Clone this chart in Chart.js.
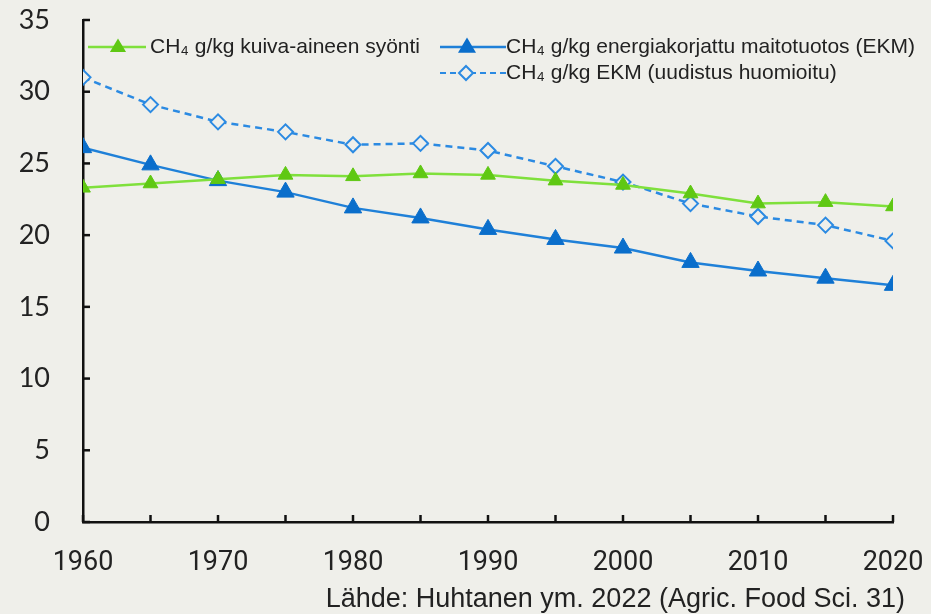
<!DOCTYPE html>
<html>
<head>
<meta charset="utf-8">
<script src="https://cdn.jsdelivr.net/npm/chart.js@4/dist/chart.umd.min.js"></script>
<style>
html,body{margin:0;padding:0;background:#efefea;}
#wrap{position:relative;width:931px;height:614px;}
</style>
</head>
<body>
<div id="wrap"><canvas id="c" width="931" height="614"></canvas></div>
<script>
const years = [1960,1965,1970,1975,1980,1985,1990,1995,2000,2005,2010,2015,2020];
const dmiValues = [23.3,23.6,23.9,24.2,24.1,24.3,24.2,23.8,23.5,22.9,22.2,22.3,22.0];
const ecmValues = [26.1,24.9,23.8,23.0,21.9,21.2,20.4,19.7,19.1,18.1,17.5,17.0,16.5];
const ecmRenewalValues = [31.0,29.1,27.9,27.2,26.3,26.4,25.9,24.8,23.7,22.2,21.3,20.7,19.6];
const seriesLabels = ['CH\u2084 g/kg kuiva-aineen syönti','CH\u2084 g/kg energiakorjattu maitotuotos (EKM)','CH\u2084 g/kg EKM (uudistus huomioitu)'];
const yTicks = [0,5,10,15,20,25,30,35];
const xLabelYears = [1960,1970,1980,1990,2000,2010,2020];
const sourceText = 'Lähde: Huhtanen ym. 2022 (Agric. Food Sci. 31)';

const BG = '#efefea';
const toPts = vals => years.map((y,i)=>({x:y,y:vals[i]}));

const innerTicks = {
  id:'innerTicks',
  afterDatasetsDraw(chart){
    const ctx = chart.ctx, xs = chart.scales.x, ys = chart.scales.y;
    ctx.save();
    ctx.strokeStyle = '#111'; ctx.lineWidth = 2.5;
    years.forEach(y=>{
      const px = xs.getPixelForValue(y);
      ctx.beginPath(); ctx.moveTo(px, ys.bottom); ctx.lineTo(px, ys.bottom-7); ctx.stroke();
    });
    yTicks.forEach(v=>{
      const py = ys.getPixelForValue(v);
      ctx.beginPath(); ctx.moveTo(xs.left, py); ctx.lineTo(xs.left+7, py); ctx.stroke();
    });
    ctx.restore();
  }
};

function tri(ctx,x,y,r,fill){
  ctx.beginPath();
  ctx.moveTo(x, y-r);
  ctx.lineTo(x+r*0.95, y+r*0.6);
  ctx.lineTo(x-r*0.95, y+r*0.6);
  ctx.closePath(); ctx.fillStyle=fill; ctx.fill();
}
function diamond(ctx,x,y,r,stroke){
  ctx.beginPath();
  ctx.moveTo(x,y-r);ctx.lineTo(x+r,y);ctx.lineTo(x,y+r);ctx.lineTo(x-r,y);ctx.closePath();
  ctx.fillStyle=BG;ctx.fill();ctx.strokeStyle=stroke;ctx.lineWidth=2;ctx.stroke();
}

const customLegend = {
  id:'customLegend',
  afterDraw(chart){
    const ctx = chart.ctx;
    ctx.save();
    ctx.font = '21px "Liberation Sans", Arial, sans-serif';
    ctx.fillStyle = '#222'; ctx.textBaseline='middle'; ctx.textAlign='left';
    // entry 1
    ctx.strokeStyle='#7fe03c'; ctx.lineWidth=2.5; ctx.setLineDash([]);
    ctx.beginPath(); ctx.moveTo(88,47); ctx.lineTo(146,47); ctx.stroke();
    tri(ctx,118,47,8.5,'#5fc813');
    ctx.fillStyle='#222'; ctx.fillText(seriesLabels[0],150,47);
    // entry 2
    ctx.strokeStyle='#1f80d8'; ctx.lineWidth=2.5;
    ctx.beginPath(); ctx.moveTo(440,47); ctx.lineTo(506,47); ctx.stroke();
    tri(ctx,467,47,9.5,'#0a6ecb');
    ctx.fillStyle='#222'; ctx.fillText(seriesLabels[1],506,47);
    // entry 3
    ctx.strokeStyle='#2b8ae2'; ctx.lineWidth=2; ctx.setLineDash([6,4]);
    ctx.beginPath(); ctx.moveTo(440,73); ctx.lineTo(506,73); ctx.stroke();
    ctx.setLineDash([]);
    diamond(ctx,466,73,7,'#2b8ae2');
    ctx.fillStyle='#222'; ctx.fillText(seriesLabels[2],506,73);
    // source
    ctx.font = '27px "Liberation Sans", Arial, sans-serif';
    ctx.fillStyle='#222'; ctx.textAlign='right';
    ctx.fillText(sourceText, 905, 600);
    ctx.restore();
  }
};

const bgPlugin = {
  id:'bg',
  beforeDraw(chart){
    const ctx=chart.ctx; ctx.save(); ctx.fillStyle=BG; ctx.fillRect(0,0,chart.width,chart.height); ctx.restore();
  }
};

new Chart(document.getElementById('c'), {
  type:'line',
  data:{
    datasets:[
      {label:seriesLabels[0], data:toPts(dmiValues), borderColor:'#7fe03c', borderWidth:2.5,
       pointStyle:'triangle', pointRadius:8.5, pointBackgroundColor:'#5fc813', pointBorderColor:'#5fc813', pointBorderWidth:1, tension:0},
      {label:seriesLabels[1], data:toPts(ecmValues), borderColor:'#1f80d8', borderWidth:2.5,
       pointStyle:'triangle', pointRadius:10, pointBackgroundColor:'#0a6ecb', pointBorderColor:'#0a6ecb', pointBorderWidth:1, tension:0},
      {label:seriesLabels[2], data:toPts(ecmRenewalValues), borderColor:'#2b8ae2', borderWidth:2.5, borderDash:[7,5],
       pointStyle:'rectRot', pointRadius:7.5, pointBackgroundColor:BG, pointBorderColor:'#2b8ae2', pointBorderWidth:2, tension:0}
    ]
  },
  options:{
    responsive:false, animation:false, devicePixelRatio:1,
    layout:{padding:{left:0,right:38,top:20,bottom:0}},
    plugins:{legend:{display:false}, tooltip:{enabled:false}},
    scales:{
      x:{type:'linear', min:1960, max:2020,
         afterFit(s){ s.height = 92; s.paddingLeft = 0; s.paddingRight = 0; },
         afterBuildTicks(s){ s.ticks = xLabelYears.map(v=>({value:v})); },
         ticks:{padding:25, color:'#222', maxRotation:0, autoSkip:false,
                font:{family:'Roboto, "Liberation Sans", sans-serif', size:27},
                callback:v=>String(v)},
         grid:{display:true, drawOnChartArea:false, drawTicks:false},
         border:{display:true, color:'#111', width:2.5}},
      y:{min:0, max:35,
         afterFit(s){ s.width = 83; s.paddingTop = 0; s.paddingBottom = 0; },
         afterBuildTicks(s){ s.ticks = yTicks.map(v=>({value:v})); },
         ticks:{padding:33, color:'#222',
                font:{family:'Lato, "Open Sans", sans-serif', size:27}},
         grid:{display:true, drawOnChartArea:false, drawTicks:false},
         border:{display:true, color:'#111', width:2.5}}
    }
  },
  plugins:[bgPlugin, innerTicks, customLegend]
});
</script>
</body>
</html>
